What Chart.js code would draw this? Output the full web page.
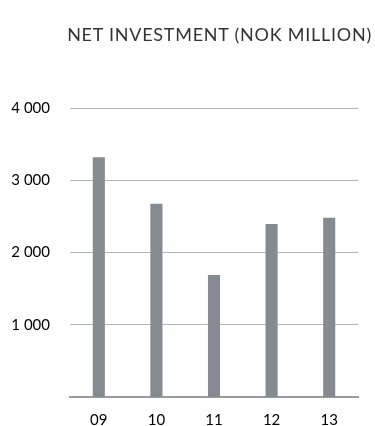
<!DOCTYPE html>
<html>
<head>
<meta charset="utf-8">
<script src="https://cdn.jsdelivr.net/npm/chart.js@4"></script>
<style>
  html, body { margin: 0; padding: 0; background: #fff; }
  #wrap { position: relative; width: 375px; height: 426px; }
  #title {
    position: absolute; top: 23px; right: 3px;
    font: 18px Lato, sans-serif; color: #333; letter-spacing: 0.75px;
    white-space: nowrap;
  }
</style>
</head>
<body>
<div id="wrap">
  <div id="title">NET INVESTMENT (NOK MILLION)</div>
  <canvas id="chart" width="375" height="426"></canvas>
</div>
<script>
// years and net investment, NOK million
const years = ['09', '10', '11', '12', '13'];
const netInvestment = [3320, 2675, 1690, 2395, 2480];
const yTicks = [1000, 2000, 3000, 4000];

const fmt = v => String(v).replace(/\B(?=(\d{3})+(?!\d))/g, ' ');

const ctx = document.getElementById('chart');
new Chart(ctx, {
  type: 'bar',
  data: {
    labels: years,
    datasets: [{
      data: netInvestment,
      backgroundColor: '#868a91',
      barPercentage: 0.21,
      categoryPercentage: 1
    }]
  },
  options: {
    responsive: false,
    animation: false,
    layout: { padding: { top: 108, right: 17, bottom: 0, left: 0 } },
    plugins: { legend: { display: false }, tooltip: { enabled: false }, title: { display: false } },
    scales: {
      x: {
        grid: { display: false, drawTicks: false },
        border: { display: true, color: '#9a9ca0', width: 2 },
        ticks: { color: '#000', font: { family: 'Lato', size: 15 }, padding: 14 },
        afterFit: s => { s.height = 29; }
      },
      y: {
        min: 0, max: 4000,
        afterBuildTicks: s => { s.ticks = yTicks.map(v => ({ value: v })); },
        grid: { color: '#b4b5b9', lineWidth: 1, drawTicks: false },
        border: { display: false },
        ticks: {
          color: '#000', font: { family: 'Lato', size: 15 }, padding: 20,
          callback: v => fmt(v)
        },
        afterFit: s => { s.width = 70; }
      }
    }
  }
});
</script>
</body>
</html>
